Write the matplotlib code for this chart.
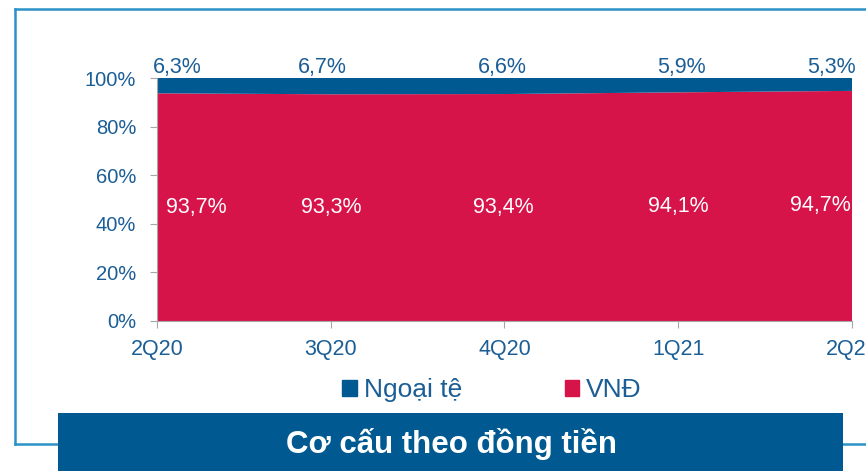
import matplotlib
matplotlib.use('Agg')
import matplotlib.pyplot as plt
from matplotlib.patches import Rectangle, Patch
from matplotlib.lines import Line2D

plt.rcParams['font.family'] = ['Liberation Sans', 'DejaVu Sans']

quarters = ['2Q20', '3Q20', '4Q20', '1Q21', '2Q21']
vnd = [93.7, 93.3, 93.4, 94.1, 94.7]
ngoai_te = [6.3, 6.7, 6.6, 5.9, 5.3]
yticks = [0, 20, 40, 60, 80, 100]

BLUE = '#005A91'
RED = '#D7144A'
TXT = '#1B5E96'
FRAME = '#2A92C7'
GREY = '#A6A6A6'

fig = plt.figure(figsize=(8.66, 4.71), dpi=100)
ax = fig.add_axes([157 / 866, 1 - 321 / 471, 695 / 866, 243 / 471])

x = list(range(len(quarters)))
ax.stackplot(x, vnd, ngoai_te, colors=[RED, BLUE], linewidth=0)
ax.set_xlim(0, len(quarters) - 1)
ax.set_ylim(0, 100)
ax.set_xticks(x)
ax.set_xticklabels(quarters)
ax.set_yticks(yticks)
ax.set_yticklabels([f'{v}%' for v in yticks])
ax.tick_params(axis='both', colors=GREY, labelcolor=TXT, length=5)
ax.tick_params(axis='x', pad=8, labelsize=15.5)
ax.tick_params(axis='y', pad=10, labelsize=14.5)
for s in ['top', 'right']:
    ax.spines[s].set_visible(False)
for s in ['left', 'bottom']:
    ax.spines[s].set_color(GREY)
ax.set_facecolor('none')

# data labels: first/last nudged inside the plot
top_dx = [20, -8, -2, 3, -21]
low_dx = [39, 0, -1, 0, -32]
for i, (v, f) in enumerate(zip(vnd, ngoai_te)):
    ax.annotate(f'{f:.1f}%'.replace('.', ','), xy=(i, 100), xytext=(top_dx[i], 10),
                textcoords='offset pixels', ha='center', va='center',
                fontsize=15.5, color=TXT, annotation_clip=False)
    ax.annotate(f'{v:.1f}%'.replace('.', ','), xy=(i, v / 2), xytext=(low_dx[i], 0),
                textcoords='offset pixels', ha='center', va='center',
                fontsize=15.5, color='white')

# legend
handles = [Patch(color=BLUE, label='Ngoại tệ'), Patch(color=RED, label='VNĐ')]
fig.legend(handles=handles, loc='center', bbox_to_anchor=(492 / 866, 1 - 390 / 471),
           ncol=2, frameon=False, fontsize=19, handlelength=0.55, handleheight=0.55,
           handletextpad=0.25, columnspacing=3.9, labelcolor=TXT)

# outer frame and title box
fy = 1 - 444 / 471
fig.add_artist(Line2D([15 / 866, 15 / 866], [fy, 1 - 9 / 471], color=FRAME, lw=1.8))
fig.add_artist(Line2D([15 / 866, 1], [1 - 9 / 471, 1 - 9 / 471], color=FRAME, lw=1.8))
fig.add_artist(Line2D([15 / 866, 1], [fy, fy], color=FRAME, lw=1.8))
fig.add_artist(Rectangle((58 / 866, 0), 785 / 866, 58 / 471, transform=fig.transFigure,
                         facecolor=BLUE, edgecolor='none', zorder=3))
fig.text(451 / 866, 1 - 444 / 471, 'Cơ cấu theo đồng tiền', ha='center', va='center',
         fontsize=22.5, fontweight='bold', color='white', zorder=4)

fig.savefig('out.png', dpi=100)
